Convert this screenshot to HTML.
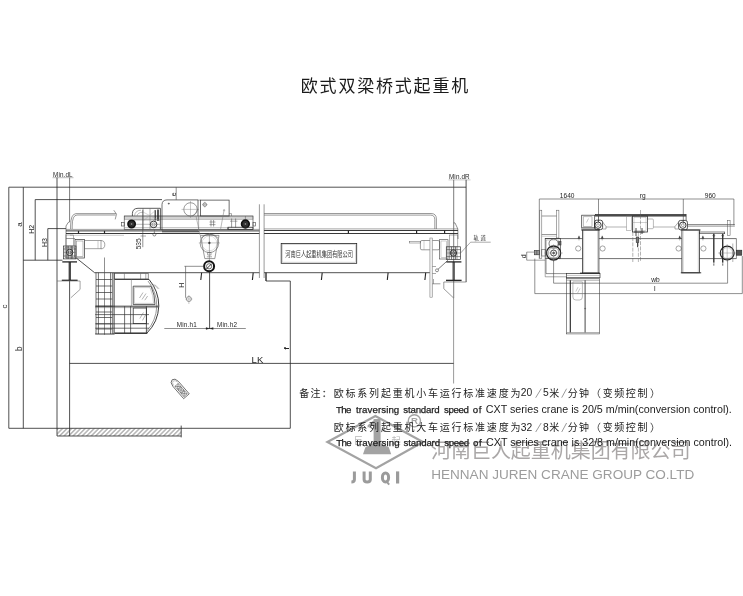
<!DOCTYPE html>
<html><head><meta charset="utf-8"><title>crane</title>
<style>
html,body{margin:0;padding:0;background:#fff;}
body{width:743px;height:596px;overflow:hidden;font-family:"Liberation Sans",sans-serif;}
svg{display:block;font-family:"Liberation Sans",sans-serif;will-change:transform;}
</style></head><body>
<svg width="743" height="596" viewBox="0 0 743 596" fill="none">
<defs>
<pattern id="hat" width="3.2" height="3.2" patternUnits="userSpaceOnUse" patternTransform="rotate(45)"><path d="M1.6 0V3.2" stroke="#444" stroke-width="0.6"/></pattern>
</defs>
<rect width="743" height="596" fill="#fff"/>
<path d="M8.8 187.2L8.8 428.3" stroke="#242424" stroke-width="0.8" />
<path d="M23.3 187.2L23.3 428.3" stroke="#242424" stroke-width="0.8" />
<path d="M8.8 187.2L466.1 187.2" stroke="#242424" stroke-width="0.8" />
<path d="M35.2 199.6L162 199.6" stroke="#242424" stroke-width="0.8" />
<path d="M35.2 199.6L35.2 260.2" stroke="#242424" stroke-width="0.8" />
<path d="M47.8 228.6L66 228.6" stroke="#242424" stroke-width="0.8" />
<path d="M47.8 228.6L47.8 260.2" stroke="#242424" stroke-width="0.8" />
<path d="M23.3 260.2L62.5 260.2" stroke="#242424" stroke-width="0.8" />
<path d="M8.8 428.3L290.3 428.3" stroke="#242424" stroke-width="0.8" />
<text x="7" y="306.5" font-size="8" fill="#242424" text-anchor="middle" font-weight="normal" transform="rotate(-90 7 306.5)" >c</text>
<text x="22" y="224.6" font-size="8" fill="#242424" text-anchor="middle" font-weight="normal" transform="rotate(-90 22 224.6)" >a</text>
<text x="22.2" y="348.8" font-size="8.2" fill="#242424" text-anchor="middle" font-weight="normal" transform="rotate(-90 22.2 348.8)" >b</text>
<text x="34.3" y="229.2" font-size="7" fill="#242424" text-anchor="middle" font-weight="normal" transform="rotate(-90 34.3 229.2)" >H2</text>
<text x="47" y="242.6" font-size="7" fill="#242424" text-anchor="middle" font-weight="normal" transform="rotate(-90 47 242.6)" >H3</text>
<text x="53.1" y="177.1" font-size="6.3" fill="#242424" text-anchor="start" font-weight="normal" letter-spacing="0.12" >Min.dL</text>
<path d="M52.5 177.7L73.5 177.7" stroke="#666" stroke-width="0.45" />
<path d="M57 177.6L57 436" stroke="#242424" stroke-width="0.8" />
<path d="M69.6 177.6L69.6 222" stroke="#242424" stroke-width="0.6" />
<path d="M69.6 262L69.6 436" stroke="#242424" stroke-width="0.8" />
<rect x="57" y="428.3" width="124.2" height="7.7" fill="url(#hat)"/>
<path d="M57 436L181.2 436" stroke="#242424" stroke-width="0.8" />
<path d="M181.2 425.6L181.2 437.4" stroke="#242424" stroke-width="0.8" />
<path d="M69.6 363.4L453.8 363.4" stroke="#242424" stroke-width="0.8" />
<text x="251.6" y="363.2" font-size="9.5" fill="#242424" text-anchor="start" font-weight="normal" >LK</text>
<path d="M266 272.7L266 281L290.3 281L290.3 428.3" stroke="#242424" stroke-width="0.8" fill="none" />
<text x="289.2" y="348.4" font-size="8" fill="#242424" text-anchor="middle" font-weight="bold" transform="rotate(-90 289.2 348.4)" >f</text>
<text x="449" y="179.3" font-size="6.3" fill="#242424" text-anchor="start" font-weight="normal" letter-spacing="0.12" >Min.dR</text>
<path d="M448.5 179.9L470.5 179.9" stroke="#777" stroke-width="0.4" />
<path d="M453.7 179.8L453.7 298" stroke="#444" stroke-width="0.7" />
<path d="M466.1 179.8L466.1 282" stroke="#242424" stroke-width="0.8" />
<path d="M453.6 298L453.6 383.5" stroke="#555" stroke-width="0.6" />
<path d="M70.6 229 V226 Q70.6 214 76 213.6 H116.2" stroke="#555" stroke-width="0.6" fill="none" />
<path d="M72.2 229 V226 Q72.2 215.2 77 215 H115.6" stroke="#555" stroke-width="0.6" fill="none" />
<path d="M113.8 210.2L116.5 214.2L115.2 219.4" stroke="#555" stroke-width="0.6" fill="none" />
<path d="M66 258L66 226L68.2 222.5L69.6 222" stroke="#444" stroke-width="0.6" fill="none" />
<path d="M66 229.4L259.4 229.4" stroke="#666" stroke-width="0.6" />
<path d="M66 230.9L259.4 230.9" stroke="#242424" stroke-width="0.9" />
<path d="M66 233.5L259.4 233.5" stroke="#242424" stroke-width="0.9" />
<path d="M70 235.3L124 235.3" stroke="#999" stroke-width="0.5" />
<path d="M78.5 230.9L78.5 233.5" stroke="#242424" stroke-width="1.2" />
<path d="M104.5 230.9L104.5 233.5" stroke="#242424" stroke-width="1.2" />
<path d="M76.8 258.4L94.6 272.7L259.4 272.7" stroke="#242424" stroke-width="0.8" fill="none" />
<path d="M66 258L76.8 258.4" stroke="#666" stroke-width="0.5" />
<path d="M201.6 272.7L200.8 280" stroke="#242424" stroke-width="1.1" />
<path d="M253.2 272.7L252.4 280" stroke="#242424" stroke-width="1.1" />
<path d="M259.4 204.3L259.4 278" stroke="#555" stroke-width="0.6" />
<path d="M264.1 204.3L264.1 278" stroke="#555" stroke-width="0.6" />
<path d="M264.1 213.5 H431 Q436.4 213.5 436.4 219 V229" stroke="#555" stroke-width="0.6" fill="none" />
<path d="M264.1 215.1 H430.4 Q434.8 215.1 434.8 219.6 V229" stroke="#555" stroke-width="0.6" fill="none" />
<path d="M264.1 228.9L458 228.9" stroke="#666" stroke-width="0.6" />
<path d="M264.1 230.5L458 230.5" stroke="#242424" stroke-width="0.9" />
<path d="M264.1 233.5L458 233.5" stroke="#242424" stroke-width="0.9" />
<path d="M348.4 230.5L348.4 233.5" stroke="#242424" stroke-width="1.2" />
<path d="M416.6 230.5L416.6 233.5" stroke="#242424" stroke-width="1.2" />
<path d="M444.6 230.5L444.6 233.5" stroke="#242424" stroke-width="1.2" />
<path d="M264.1 272.7L430.3 272.7" stroke="#242424" stroke-width="0.8" />
<path d="M322.2 272.7L321.4 280" stroke="#242424" stroke-width="1.1" />
<path d="M388.1 272.7L387.3 280" stroke="#242424" stroke-width="1.1" />
<path d="M425.7 272.7L424.9 280" stroke="#242424" stroke-width="1.1" />
<path d="M266 272.7L266 281" stroke="#242424" stroke-width="0.9" fill="none" />
<path d="M453.8 222.9L455 222.9L457.8 228.9L458 239" stroke="#444" stroke-width="0.6" fill="none" />
<rect x="281.2" y="243.4" width="75.5" height="19.9" rx="0" stroke="#242424" stroke-width="0.8" fill="none" />
<rect x="282.4" y="244.6" width="73.1" height="17.5" rx="0" stroke="#aaa" stroke-width="0.4" fill="none" />
<text x="285.3" y="256.9" font-size="7.6" fill="#333" text-anchor="start" font-weight="normal" font-family="&quot;Liberation Sans&quot;, &quot;Noto Sans CJK SC&quot;, sans-serif" textLength="67.7" lengthAdjust="spacingAndGlyphs">河南巨人起重机集团有限公司</text>
<rect x="75" y="239.6" width="9.4" height="18.4" rx="0" stroke="#333" stroke-width="0.7" fill="none" />
<rect x="76.5" y="241" width="6.5" height="15.5" rx="0" stroke="#777" stroke-width="0.5" fill="none" />
<rect x="84.4" y="240.6" width="16.6" height="8.2" rx="0" stroke="#666" stroke-width="0.6" fill="none" />
<path d="M101 240.6 Q104.8 240.6 104.8 244.7 Q104.8 248.8 101 248.8" stroke="#666" stroke-width="0.6" fill="none" />
<path d="M98 240.6L98 248.8" stroke="#999" stroke-width="0.5" />
<rect x="63.4" y="246" width="12.6" height="12.9" rx="0" stroke="#333" stroke-width="0.7" fill="none" />
<rect x="65" y="247.5" width="9.4" height="10" rx="0" stroke="#666" stroke-width="0.5" fill="none" />
<path d="M66.8 246L66.8 258.9" stroke="#555" stroke-width="0.6" />
<path d="M72.4 246L72.4 258.9" stroke="#555" stroke-width="0.6" />
<path d="M63.4 252.4L76 252.4" stroke="#666" stroke-width="0.5" />
<circle cx="69.7" cy="252.4" r="3.2" stroke="#222" stroke-width="0.9" fill="none"/>
<circle cx="69.7" cy="252.4" r="1.4" stroke="#333" stroke-width="0.6" fill="none"/>
<path d="M68.2 246L68.2 258.9" stroke="#333" stroke-width="0.7" />
<path d="M71.2 246L71.2 258.9" stroke="#333" stroke-width="0.7" />
<path d="M63.4 249L76 249" stroke="#444" stroke-width="0.6" />
<path d="M63.4 256L76 256" stroke="#444" stroke-width="0.6" />
<rect x="66" y="235" width="7.5" height="11" rx="0" stroke="#666" stroke-width="0.5" fill="none" />
<path d="M66 238.5L75 238.5" stroke="#555" stroke-width="0.6" />
<path d="M62.3 261.9L77 261.9" stroke="#242424" stroke-width="1.3" />
<path d="M69.1 262L69.1 280" stroke="#242424" stroke-width="0.8" />
<path d="M70.5 262L70.5 280" stroke="#242424" stroke-width="0.8" />
<path d="M61.8 280.3L77.6 280.3" stroke="#242424" stroke-width="1.3" />
<path d="M57 281L80.1 281L80.1 289.4L70.8 297.8" stroke="#666" stroke-width="0.6" fill="none" />
<path d="M96 272.7L96 334" stroke="#333" stroke-width="0.7" />
<path d="M98.4 272.7L98.4 334" stroke="#333" stroke-width="0.7" />
<path d="M110.6 272.7L110.6 334" stroke="#333" stroke-width="0.7" />
<path d="M104.5 257.5L104.5 334.7" stroke="#444" stroke-width="0.6" />
<rect x="112.2" y="273.5" width="2.4" height="60" rx="0" stroke="#555" stroke-width="0.5" fill="#aaa" />
<path d="M96 279.5L112.2 279.5" stroke="#333" stroke-width="0.7" />
<path d="M96 286L112.2 286" stroke="#333" stroke-width="0.7" />
<path d="M96 292.5L112.2 292.5" stroke="#333" stroke-width="0.7" />
<path d="M96 299L112.2 299" stroke="#333" stroke-width="0.7" />
<path d="M96 306.2L112.2 306.2" stroke="#333" stroke-width="0.7" />
<path d="M96 312L112.2 312" stroke="#333" stroke-width="0.7" />
<path d="M96 317.5L112.2 317.5" stroke="#333" stroke-width="0.7" />
<path d="M96 323.8L112.2 323.8" stroke="#333" stroke-width="0.7" />
<path d="M96 329L112.2 329" stroke="#333" stroke-width="0.7" />
<path d="M95.2 334L114.6 334" stroke="#242424" stroke-width="0.9" />
<rect x="114.6" y="273.5" width="33.6" height="5.5" rx="0" stroke="#444" stroke-width="0.6" fill="none" />
<path d="M124.4 273.5L124.4 279" stroke="#555" stroke-width="0.5" />
<path d="M140.6 273.5L140.6 279" stroke="#555" stroke-width="0.5" />
<path d="M145.8 273.5L145.8 279" stroke="#555" stroke-width="0.5" />
<path d="M114.6 279.4 H149 Q158.8 291 158.8 306 Q158.2 322 146.8 333.2 H114.6" stroke="#242424" stroke-width="0.9" fill="none" />
<path d="M148 281 Q156.8 292 156.8 306 Q156.2 321 146.4 331.5" stroke="#555" stroke-width="0.6" fill="none" />
<path d="M95.2 306.2L158.2 306.2" stroke="#242424" stroke-width="0.9" />
<path d="M95.2 307.6L158.2 307.6" stroke="#555" stroke-width="0.5" />
<path d="M95.2 314.6L149 314.6" stroke="#333" stroke-width="0.7" />
<path d="M95.2 323.8L149 323.8" stroke="#333" stroke-width="0.7" />
<path d="M95.2 328.2L149 328.2" stroke="#333" stroke-width="0.7" />
<path d="M114.6 333.2L147.4 333.2" stroke="#242424" stroke-width="1.0" />
<path d="M124.6 306.2L124.6 333.2" stroke="#333" stroke-width="0.7" />
<path d="M130.6 306.2L130.6 333.2" stroke="#333" stroke-width="0.7" />
<path d="M131.4 279.4L131.4 306.2" stroke="#666" stroke-width="0.5" />
<path d="M133.2 286.2 H151 Q155 295 155 304.6 H133.2 Z" stroke="#333" stroke-width="0.8" fill="none" />
<path d="M134.4 287.6 H150 Q153.6 296 153.6 303.4 H134.4 Z" stroke="#888" stroke-width="0.4" fill="none" />
<path d="M139.5 298L143 292.5" stroke="#666" stroke-width="0.5" />
<path d="M142 299.5L146 293.5" stroke="#666" stroke-width="0.5" />
<path d="M144.8 300.2L147.6 296" stroke="#666" stroke-width="0.5" />
<rect x="133.2" y="308" width="13.2" height="15.6" rx="0" stroke="#333" stroke-width="0.8" fill="none" />
<path d="M146.4 306.2L146.4 333.2" stroke="#333" stroke-width="0.8" />
<path d="M139.8 318.5L143.4 312.5" stroke="#666" stroke-width="0.5" />
<path d="M142.5 320.4L146 314.2" stroke="#666" stroke-width="0.5" />
<path d="M151.5 284.6 Q156 284 159 288.8" stroke="#666" stroke-width="0.5" fill="none" />
<path d="M152.5 286 Q156 285.5 158 289" stroke="#999" stroke-width="0.4" fill="none" />
<rect x="124.2" y="216" width="128.8" height="3.5" rx="0" stroke="#888" stroke-width="0.4" fill="#d2d2d2" />
<rect x="124.2" y="216" width="128.8" height="13.6" rx="0" stroke="#444" stroke-width="0.6" fill="none" />
<path d="M124.2 227.6L253 227.6" stroke="#888" stroke-width="0.5" />
<rect x="121.6" y="222.4" width="2.6" height="3.6" rx="0" stroke="#444" stroke-width="0.6" fill="none" />
<rect x="253" y="222.4" width="2.6" height="3.6" rx="0" stroke="#444" stroke-width="0.6" fill="none" />
<path d="M132.4 216 V213.5 Q132.6 208.3 138 208.3 H160.4 V229.6" stroke="#333" stroke-width="0.8" fill="none" />
<path d="M134.5 216 Q135 210.4 141 210.2" stroke="#777" stroke-width="0.5" fill="none" />
<path d="M137 216 Q137.6 212.4 143 212.2" stroke="#777" stroke-width="0.5" fill="none" />
<path d="M143 208.3L143 229.6" stroke="#555" stroke-width="0.6" />
<path d="M150 208.3L150 229.6" stroke="#666" stroke-width="0.5" />
<path d="M155.2 210L155.2 220.5" stroke="#222" stroke-width="1.1" />
<path d="M158 209.5L158 221" stroke="#222" stroke-width="1.5" />
<path d="M143 212L160 221" stroke="#999" stroke-width="0.4" />
<path d="M143 221L156 210" stroke="#999" stroke-width="0.4" />
<path d="M134 220L160 220" stroke="#777" stroke-width="0.5" />
<path d="M136 224.3L160 224.3" stroke="#777" stroke-width="0.5" />
<circle cx="131.6" cy="224" r="3.6" stroke="#111" stroke-width="1.7" fill="#333"/>
<circle cx="131.6" cy="224" r="1" stroke="#111" stroke-width="0.5" fill="#bbb"/>
<circle cx="153.6" cy="224.4" r="3.3" stroke="#222" stroke-width="0.9" fill="none"/>
<circle cx="153.6" cy="224.4" r="1.6" stroke="#555" stroke-width="0.5" fill="none"/>
<circle cx="154.4" cy="234.5" r="1.5" stroke="#444" stroke-width="0.6" fill="none"/>
<path d="M154.4 229.6L154.4 233" stroke="#555" stroke-width="0.5" />
<circle cx="245.4" cy="224" r="3.8" stroke="#111" stroke-width="1.7" fill="#333"/>
<circle cx="245.4" cy="224" r="1" stroke="#111" stroke-width="0.5" fill="#bbb"/>
<path d="M245.4 216L245.4 219" stroke="#555" stroke-width="0.5" />
<path d="M142.8 210L142.8 247.2" stroke="#444" stroke-width="0.6" />
<path d="M140.5 236L146 236" stroke="#555" stroke-width="0.5" />
<text x="141.4" y="243.8" font-size="6.6" fill="#242424" text-anchor="middle" font-weight="normal" transform="rotate(-90 141.4 243.8)" >535</text>
<path d="M162 230.3 V204.6 Q162.2 199.9 167 199.9 H198 V216" stroke="#333" stroke-width="0.7" fill="none" />
<path d="M162 230.3L198 230.3" stroke="#555" stroke-width="0.6" />
<circle cx="190.5" cy="209.4" r="6.7" stroke="#555" stroke-width="0.6" fill="none"/>
<path d="M181.5 209.4L199 209.4" stroke="#777" stroke-width="0.4" />
<path d="M190.5 201L190.5 218" stroke="#777" stroke-width="0.4" />
<circle cx="168.8" cy="203.6" r="0.6" stroke="#444" stroke-width="0.5" fill="#444"/>
<path d="M198 209 Q196 214 192.5 216" stroke="#666" stroke-width="0.5" fill="none" />
<path d="M176.2 187.2L176.2 199.9" stroke="#444" stroke-width="0.6" />
<text x="175.6" y="194.2" font-size="7" fill="#242424" text-anchor="middle" font-weight="normal" transform="rotate(-90 175.6 194.2)" >e</text>
<rect x="200.6" y="200.1" width="28.5" height="15.9" rx="0" stroke="#333" stroke-width="0.7" fill="none" />
<path d="M198 200.1L200.6 200.1" stroke="#555" stroke-width="0.5" />
<circle cx="204.8" cy="204.6" r="1.8" stroke="#444" stroke-width="0.6" fill="none"/>
<path d="M202 204.6L207.6 204.6" stroke="#777" stroke-width="0.4" />
<path d="M204.8 201.8L204.8 207.6" stroke="#777" stroke-width="0.4" />
<path d="M224 210.5L220.5 229.6" stroke="#777" stroke-width="0.5" />
<circle cx="224.1" cy="210.2" r="0.7" stroke="#555" stroke-width="0.4" fill="none"/>
<path d="M196 216L200 235" stroke="#777" stroke-width="0.5" />
<path d="M198.6 216L198.6 229.6" stroke="#666" stroke-width="0.5" />
<path d="M211 220L211 226.5" stroke="#555" stroke-width="0.6" />
<path d="M213.6 220L213.6 226.5" stroke="#555" stroke-width="0.6" />
<path d="M209.5 222L215.5 222" stroke="#555" stroke-width="0.5" />
<path d="M209.5 224.6L215.5 224.6" stroke="#555" stroke-width="0.5" />
<path d="M231.6 218.5L231.6 227.6" stroke="#555" stroke-width="0.6" />
<path d="M235.6 218.5L235.6 227.6" stroke="#555" stroke-width="0.6" />
<path d="M230 221.2L237.4 221.2" stroke="#555" stroke-width="0.5" />
<path d="M229.1 213.6L231.5 213.6" stroke="#555" stroke-width="0.5" />
<path d="M231.5 213.6L231.5 216" stroke="#555" stroke-width="0.5" />
<path d="M162 231.8L199 231.8" stroke="#333" stroke-width="0.9" />
<path d="M228 227.6L228 229.6" stroke="#333" stroke-width="0.8" />
<rect x="228" y="227.2" width="25" height="2.4" rx="0" stroke="#333" stroke-width="0.7" fill="none" />
<path d="M200.4 235.4 H219 L214.8 258.6 H204.8 Z" stroke="#555" stroke-width="0.6" fill="none" />
<path d="M201.5 238 Q203 234.6 209.6 234.4 Q216.4 234.6 218 238" stroke="#666" stroke-width="0.5" fill="none" />
<circle cx="209.4" cy="243.4" r="9.2" stroke="#555" stroke-width="0.6" fill="none"/>
<circle cx="209.4" cy="243.4" r="7.4" stroke="#aaa" stroke-width="0.4" fill="none"/>
<path d="M198.8 242.9L220 242.9" stroke="#777" stroke-width="0.4" />
<path d="M209.4 233L209.4 262" stroke="#666" stroke-width="0.5" />
<circle cx="209.4" cy="242.9" r="0.9" stroke="#333" stroke-width="0.5" fill="#333"/>
<rect x="207.8" y="252.6" width="3.2" height="2.4" rx="0" stroke="#555" stroke-width="0.5" fill="none" />
<path d="M206.8 256.8L212 256.8" stroke="#555" stroke-width="0.5" />
<circle cx="209.1" cy="266.3" r="5" stroke="#111" stroke-width="2.0" fill="none"/>
<circle cx="209.1" cy="266.3" r="2.6" stroke="#333" stroke-width="0.7" fill="none"/>
<path d="M206.4 269L211.8 263.6" stroke="#222" stroke-width="0.9" />
<path d="M209.6 271L209.6 329" stroke="#242424" stroke-width="0.8" />
<path d="M184.4 266.3L204.5 266.3" stroke="#444" stroke-width="0.6" />
<path d="M185.6 266.3L185.6 297.8" stroke="#444" stroke-width="0.6" />
<circle cx="188.9" cy="299" r="2.5" stroke="#555" stroke-width="0.6" fill="none"/>
<path d="M185.2 299L192.4 299" stroke="#777" stroke-width="0.4" />
<path d="M188.9 295L188.9 304" stroke="#777" stroke-width="0.4" />
<text x="183.6" y="285.2" font-size="7" fill="#242424" text-anchor="middle" font-weight="normal" transform="rotate(-90 183.6 285.2)" >H</text>
<path d="M164.3 328.5L245.8 328.5" stroke="#444" stroke-width="0.6" />
<text x="176.8" y="326.8" font-size="6.3" fill="#242424" text-anchor="start" font-weight="normal" letter-spacing="0.2" >Min.h1</text>
<text x="217" y="326.8" font-size="6.3" fill="#242424" text-anchor="start" font-weight="normal" letter-spacing="0.2" >Min.h2</text>
<path d="M209.6 328.5 L206 327.6 V329.4 Z" stroke="#242424" stroke-width="0.3" fill="#242424" />
<path d="M209.6 328.5 L213.2 327.6 V329.4 Z" stroke="#242424" stroke-width="0.3" fill="#242424" />
<rect x="409.4" y="241.4" width="11" height="1.6" rx="0" stroke="#666" stroke-width="0.5" fill="none" />
<rect x="420.4" y="240.5" width="19.2" height="9.3" rx="1.5" stroke="#555" stroke-width="0.6" fill="none" />
<path d="M424 240.5L424 249.8" stroke="#888" stroke-width="0.4" />
<rect x="439.6" y="239.7" width="8.4" height="19.3" rx="0" stroke="#444" stroke-width="0.6" fill="none" />
<rect x="441" y="241" width="5.6" height="16.6" rx="0" stroke="#888" stroke-width="0.4" fill="none" />
<rect x="429.9" y="238" width="2.5" height="59.2" rx="0" stroke="#777" stroke-width="0.5" fill="#eee" />
<rect x="446.3" y="246.8" width="14.2" height="12.6" rx="0" stroke="#333" stroke-width="0.7" fill="none" />
<path d="M449.6 246.8L449.6 259.4" stroke="#555" stroke-width="0.6" />
<path d="M457 246.8L457 259.4" stroke="#555" stroke-width="0.6" />
<path d="M446.3 253L460.5 253" stroke="#666" stroke-width="0.5" />
<circle cx="453.4" cy="253" r="3.2" stroke="#222" stroke-width="0.9" fill="none"/>
<circle cx="453.4" cy="253" r="1.4" stroke="#333" stroke-width="0.6" fill="none"/>
<path d="M451.6 246.8L451.6 259.4" stroke="#333" stroke-width="0.7" />
<path d="M455.4 246.8L455.4 259.4" stroke="#333" stroke-width="0.7" />
<path d="M446.3 249.6L460.5 249.6" stroke="#444" stroke-width="0.6" />
<path d="M446.3 256.6L460.5 256.6" stroke="#444" stroke-width="0.6" />
<rect x="449.6" y="235" width="8.2" height="11.8" rx="0" stroke="#666" stroke-width="0.5" fill="none" />
<path d="M446.3 261.9L461.4 261.9" stroke="#242424" stroke-width="1.3" />
<path d="M453 262L453 280.3" stroke="#242424" stroke-width="0.8" />
<path d="M454.3 262L454.3 280.3" stroke="#242424" stroke-width="0.8" />
<path d="M446 280.4L461.6 280.4" stroke="#242424" stroke-width="1.4" />
<path d="M466.4 282L443.8 282L443.8 288.7L453.6 298" stroke="#555" stroke-width="0.6" fill="none" />
<path d="M437.9 269.4L448 260.2" stroke="#444" stroke-width="0.7" />
<circle cx="437" cy="270.3" r="1.5" stroke="#444" stroke-width="0.6" fill="none"/>
<path d="M432.4 266.5L436 266.5" stroke="#555" stroke-width="0.5" />
<path d="M432.4 273.5L436 273.5" stroke="#555" stroke-width="0.5" />
<path d="M432.4 283.8L440.4 283.8" stroke="#555" stroke-width="0.6" />
<path d="M433.5 279L433.5 283.8" stroke="#555" stroke-width="0.5" />
<text x="473.4" y="240.4" font-size="5.4" fill="#333" text-anchor="start" font-weight="normal" font-family="&quot;Liberation Sans&quot;, &quot;Noto Sans CJK SC&quot;, sans-serif" textLength="12.4" lengthAdjust="spacing">轨道</text>
<path d="M470.6 242.2L490.7 242.2" stroke="#555" stroke-width="0.5" />
<path d="M470.6 242.2L460.5 253.1" stroke="#555" stroke-width="0.5" />
<g transform="translate(179.6 388.4) rotate(49)">
<path d="M10.4 -3.7 H-6 Q-11.2 -3.4 -11.4 0 Q-11.2 3.4 -6 3.7 H10.4 Z" stroke="#444" stroke-width="0.7" fill="none" />
<path d="M-6 -2.6 Q-9.6 -2.2 -9.8 0 Q-9.6 2.2 -6 2.6" stroke="#777" stroke-width="0.4" fill="none" />
<rect x="-4.6" y="-2.2" width="4" height="4.4" rx="0" stroke="#444" stroke-width="0.5" fill="none" />
<path d="M-4.6 -2.2L-0.6 2.2" stroke="#444" stroke-width="0.5" />
<path d="M-4.6 2.2L-0.6 -2.2" stroke="#444" stroke-width="0.5" />
<rect x="0.2" y="-2.2" width="4" height="4.4" rx="0" stroke="#444" stroke-width="0.5" fill="none" />
<path d="M0.2 -2.2L4.2 2.2" stroke="#444" stroke-width="0.5" />
<path d="M0.2 2.2L4.2 -2.2" stroke="#444" stroke-width="0.5" />
<rect x="5" y="-2.2" width="4" height="4.4" rx="0" stroke="#444" stroke-width="0.5" fill="none" />
<path d="M5 -2.2L9 2.2" stroke="#444" stroke-width="0.5" />
<path d="M5 2.2L9 -2.2" stroke="#444" stroke-width="0.5" />
</g>
<path d="M539.3 199L733.9 199" stroke="#444" stroke-width="0.6" />
<path d="M539.3 199L539.3 258.9" stroke="#444" stroke-width="0.6" />
<path d="M598.5 199L598.5 222" stroke="#444" stroke-width="0.6" />
<path d="M683.3 199L683.3 223.6" stroke="#444" stroke-width="0.6" />
<path d="M733.9 199L733.9 225.3" stroke="#444" stroke-width="0.6" />
<text x="567.2" y="198.3" font-size="6.6" fill="#242424" text-anchor="middle" font-weight="normal" >1640</text>
<text x="642.8" y="198" font-size="6.6" fill="#242424" text-anchor="middle" font-weight="normal" >rg</text>
<text x="710.3" y="198.3" font-size="6.6" fill="#242424" text-anchor="middle" font-weight="normal" >960</text>
<rect x="539.8" y="210.2" width="2" height="48.2" rx="0" stroke="#555" stroke-width="0.5" fill="none" />
<rect x="556.6" y="210.2" width="2.3" height="27.8" rx="0" stroke="#555" stroke-width="0.5" fill="none" />
<path d="M541.8 216L556.6 216" stroke="#555" stroke-width="0.6" />
<path d="M541.8 234.5L556.6 234.5" stroke="#555" stroke-width="0.6" />
<path d="M541.8 236.2L556.6 236.2" stroke="#888" stroke-width="0.4" />
<path d="M545.2 238.6L736.4 238.6" stroke="#333" stroke-width="0.7" />
<path d="M559 258.6L736.4 258.6" stroke="#333" stroke-width="0.7" />
<path d="M736.4 238.6L736.4 258.6" stroke="#444" stroke-width="0.6" />
<rect x="545.2" y="238.6" width="15.1" height="20" rx="0" stroke="#333" stroke-width="0.7" fill="none" />
<rect x="546.8" y="240" width="12" height="17.2" rx="0" stroke="#888" stroke-width="0.4" fill="none" />
<circle cx="553.6" cy="253" r="7" stroke="#222" stroke-width="1.3" fill="none"/>
<circle cx="553.6" cy="253" r="5.4" stroke="#777" stroke-width="0.5" fill="none"/>
<circle cx="553.6" cy="253" r="3" stroke="#333" stroke-width="0.9" fill="none"/>
<circle cx="553.6" cy="253" r="1" stroke="#333" stroke-width="0.5" fill="#333"/>
<circle cx="553.6" cy="243.6" r="4.6" stroke="#444" stroke-width="0.7" fill="none"/>
<rect x="558.8" y="241.6" width="2.2" height="3.4" rx="0" stroke="#333" stroke-width="0.6" fill="#666" />
<path d="M544 253L563 253" stroke="#888" stroke-width="0.4" />
<path d="M553.6 244L553.6 262" stroke="#888" stroke-width="0.4" />
<rect x="534.3" y="250.4" width="5.3" height="4.4" rx="0" stroke="#333" stroke-width="0.6" fill="#999" />
<path d="M536.8 250.4L536.8 254.8" stroke="#333" stroke-width="0.5" />
<rect x="541.8" y="249.5" width="3.4" height="6.5" rx="0" stroke="#444" stroke-width="0.5" fill="none" />
<path d="M526.7 252.1L526.7 260.2" stroke="#444" stroke-width="0.6" />
<path d="M526.7 252.1L534.3 252.1" stroke="#444" stroke-width="0.5" />
<path d="M526.7 260.2L545.2 260.2" stroke="#444" stroke-width="0.5" />
<text x="525.6" y="256.4" font-size="7" fill="#242424" text-anchor="middle" font-weight="normal" transform="rotate(-90 525.6 256.4)" >d</text>
<path d="M534.8 258.6L534.8 293.6" stroke="#444" stroke-width="0.6" />
<path d="M553.6 260L553.6 283.2" stroke="#444" stroke-width="0.6" />
<path d="M553.6 283.2L727.6 283.2" stroke="#444" stroke-width="0.6" />
<path d="M534.8 293.6L742.3 293.6" stroke="#444" stroke-width="0.6" />
<path d="M727.6 258.6L727.6 283.2" stroke="#444" stroke-width="0.6" />
<path d="M742.3 256L742.3 293.6" stroke="#444" stroke-width="0.6" />
<text x="655.5" y="281.8" font-size="6.6" fill="#242424" text-anchor="middle" font-weight="normal" >wb</text>
<text x="654.8" y="290.6" font-size="7" fill="#242424" text-anchor="middle" font-weight="normal" >l</text>
<path d="M546 258.6L546 273.6L566.6 273.6" stroke="#444" stroke-width="0.6" fill="none" />
<path d="M545.2 258.6L545.2 276.8L566.6 276.8" stroke="#555" stroke-width="0.5" fill="none" />
<rect x="582.4" y="230" width="16.5" height="43" rx="0" stroke="#333" stroke-width="0.8" fill="#fff" />
<path d="M583.6 230L583.6 273" stroke="#999" stroke-width="0.5" />
<path d="M597.7 230L597.7 273" stroke="#999" stroke-width="0.5" />
<path d="M581.2 230L600 230" stroke="#333" stroke-width="0.9" />
<rect x="581.7" y="215.2" width="13" height="12.6" rx="0" stroke="#333" stroke-width="0.7" fill="none" />
<rect x="583.2" y="216.8" width="8.8" height="9.6" rx="0" stroke="#777" stroke-width="0.5" fill="none" />
<path d="M586.5 222.5L588.5 218.5" stroke="#777" stroke-width="0.4" />
<path d="M581 228.9L596 228.9" stroke="#555" stroke-width="0.6" />
<rect x="595.5" y="214.4" width="90.6" height="1.7" rx="0" stroke="#222" stroke-width="0.6" fill="#555" />
<path d="M598.5 216.1L598.5 222" stroke="#444" stroke-width="0.5" />
<rect x="594.6" y="220.2" width="8" height="9.4" rx="2" stroke="#222" stroke-width="0.8" fill="none" />
<circle cx="598" cy="225.2" r="3.2" stroke="#222" stroke-width="0.9" fill="none"/>
<circle cx="598" cy="225.2" r="1.4" stroke="#555" stroke-width="0.5" fill="none"/>
<path d="M602.6 222 L606 226.5 V229 H602.6" stroke="#555" stroke-width="0.5" fill="none" />
<path d="M606 227L626.6 227" stroke="#666" stroke-width="0.5" />
<circle cx="578.2" cy="248.5" r="2.6" stroke="#666" stroke-width="0.6" fill="none"/>
<circle cx="602.6" cy="248.5" r="2.6" stroke="#666" stroke-width="0.6" fill="none"/>
<circle cx="678.6" cy="248.5" r="2.6" stroke="#666" stroke-width="0.6" fill="none"/>
<circle cx="703.4" cy="248.5" r="2.6" stroke="#666" stroke-width="0.6" fill="none"/>
<path d="M579 235.8 L577.9 238.6 H580.1 Z" stroke="#333" stroke-width="0.3" fill="#333" />
<path d="M579 238.6L579 240.5" stroke="#555" stroke-width="0.4" />
<path d="M602.2 235.8 L601.1 238.6 H603.3000000000001 Z" stroke="#333" stroke-width="0.3" fill="#333" />
<path d="M602.2 238.6L602.2 240.5" stroke="#555" stroke-width="0.4" />
<path d="M679.7 235.8 L678.6 238.6 H680.8000000000001 Z" stroke="#333" stroke-width="0.3" fill="#333" />
<path d="M679.7 238.6L679.7 240.5" stroke="#555" stroke-width="0.4" />
<path d="M702.9 235.8 L701.8 238.6 H704.0 Z" stroke="#333" stroke-width="0.3" fill="#333" />
<path d="M702.9 238.6L702.9 240.5" stroke="#555" stroke-width="0.4" />
<rect x="626.6" y="216.1" width="5" height="14.2" rx="0" stroke="#888" stroke-width="0.5" fill="none" />
<rect x="632.4" y="216.1" width="15.1" height="15.9" rx="0" stroke="#333" stroke-width="0.8" fill="none" />
<rect x="634" y="217.6" width="12" height="12.8" rx="0" stroke="#999" stroke-width="0.4" fill="none" />
<rect x="647.5" y="219" width="5.9" height="9.7" rx="1" stroke="#777" stroke-width="0.5" fill="none" />
<path d="M632.4 222.5L647.5 222.5" stroke="#888" stroke-width="0.4" />
<path d="M640.5 210L640.5 262" stroke="#666" stroke-width="0.5" stroke-dasharray="4 1.2"/>
<path d="M632.8 232L632.8 262" stroke="#666" stroke-width="0.5" stroke-dasharray="4 1.2"/>
<path d="M638.4 232L638.4 262" stroke="#777" stroke-width="0.5" stroke-dasharray="4 1.2"/>
<rect x="636.2" y="237" width="2.6" height="5.6" rx="0" stroke="#333" stroke-width="0.6" fill="#777" />
<path d="M637.5 242.6L637.5 247.2" stroke="#333" stroke-width="0.9" />
<path d="M636 228L636 236" stroke="#333" stroke-width="0.9" />
<path d="M642 228L642 234" stroke="#333" stroke-width="0.9" />
<path d="M634 232L644.5 232" stroke="#333" stroke-width="0.8" />
<rect x="678.6" y="220.4" width="8.8" height="9.4" rx="2" stroke="#222" stroke-width="0.8" fill="none" />
<circle cx="682.8" cy="225.2" r="3.2" stroke="#222" stroke-width="0.9" fill="none"/>
<circle cx="682.8" cy="225.2" r="1.4" stroke="#555" stroke-width="0.5" fill="none"/>
<path d="M678.6 222 L675 226.5 V229 H678.6" stroke="#555" stroke-width="0.5" fill="none" />
<path d="M653.4 227L675 227" stroke="#666" stroke-width="0.5" />
<path d="M686.1 216.1L686.1 220.4" stroke="#333" stroke-width="0.7" />
<path d="M687.4 224.5L734.8 224.5" stroke="#444" stroke-width="0.6" />
<path d="M687.4 226.1L734.8 226.1" stroke="#444" stroke-width="0.6" />
<rect x="681.9" y="230" width="17.6" height="42.8" rx="0" stroke="#333" stroke-width="0.8" fill="#fff" />
<path d="M683.1 230L683.1 272.8" stroke="#999" stroke-width="0.5" />
<path d="M698.3 230L698.3 272.8" stroke="#999" stroke-width="0.5" />
<path d="M680.8 230L700.6 230" stroke="#333" stroke-width="0.9" />
<path d="M680.8 272.8L701.2 272.8" stroke="#333" stroke-width="1.0" />
<rect x="699.5" y="232" width="25.2" height="1.7" rx="0" stroke="#333" stroke-width="0.6" fill="none" />
<path d="M713.8 233.7L713.8 262.2" stroke="#333" stroke-width="1.4" />
<path d="M713.8 262.2L713.8 266" stroke="#555" stroke-width="1.2" stroke-dasharray="1.2 0.8"/>
<circle cx="713.8" cy="235.6" r="0.9" stroke="#333" stroke-width="0.5" fill="none"/>
<path d="M722.7 233.7L722.7 262.2" stroke="#333" stroke-width="1.4" />
<path d="M722.7 262.2L722.7 266" stroke="#555" stroke-width="1.2" stroke-dasharray="1.2 0.8"/>
<circle cx="722.7" cy="235.6" r="0.9" stroke="#333" stroke-width="0.5" fill="none"/>
<rect x="727.7" y="220.3" width="2.4" height="15.1" rx="0" stroke="#555" stroke-width="0.5" fill="none" />
<circle cx="727.2" cy="253" r="6.9" stroke="#222" stroke-width="1.2" fill="none"/>
<circle cx="727.2" cy="253" r="5.4" stroke="#888" stroke-width="0.4" fill="none"/>
<path d="M718 253L737 253" stroke="#777" stroke-width="0.4" />
<path d="M727.2 244L727.2 262" stroke="#777" stroke-width="0.4" />
<rect x="736.4" y="250.2" width="5.4" height="5" rx="0" stroke="#222" stroke-width="0.6" fill="#555" />
<path d="M732.8 243.5L732.8 262" stroke="#666" stroke-width="0.5" />
<rect x="566.6" y="273.4" width="33.4" height="4.3" rx="0" stroke="#333" stroke-width="0.7" fill="#fff" />
<path d="M566.6 275.4L600 275.4" stroke="#888" stroke-width="0.5" />
<path d="M580 273.2L600 273.2" stroke="#222" stroke-width="1.1" />
<rect x="566.6" y="278.5" width="33.1" height="55.4" rx="0" stroke="#444" stroke-width="0.6" fill="none" />
<path d="M566.6 280.2L599.7 280.2" stroke="#555" stroke-width="0.5" />
<path d="M570.3 280.2L570.3 332.5" stroke="#222" stroke-width="1.1" />
<path d="M585.1 280.2L585.1 332.5" stroke="#333" stroke-width="0.9" />
<path d="M566.6 332.5L599.7 332.5" stroke="#666" stroke-width="0.5" />
<path d="M572.9 281.9 H582.4 V297 Q582.4 300 579.4 300 H575.9 Q572.9 300 572.9 297 Z" stroke="#777" stroke-width="0.5" fill="none" />
<path d="M575.8 291.5L578 287.2" stroke="#777" stroke-width="0.4" />
<path d="M577.6 293L580 288.4" stroke="#777" stroke-width="0.4" />
<circle cx="585.1" cy="308.6" r="0.5" stroke="#333" stroke-width="0.4" fill="none"/>
<path d="M327.4 442L375.4 416L423 442L376 468.2Z" stroke="#a3a3a3" stroke-width="2.2" fill="none" stroke-linejoin="miter"/>
<path d="M363 454.2 L365.4 447.2 Q370.5 446 373.6 442.5 V425.4 L367.6 427.6 V425.2 L373.6 420.4 V419 H380.6 V442.5 Q383.8 446 388.8 447.2 L391.2 454.2 Z" stroke="none" stroke-width="0" fill="#a3a3a3" />
<text x="353.4" y="443.8" font-size="9.3" fill="#b9b9b9" text-anchor="start" font-weight="normal" font-family="&quot;Liberation Sans&quot;, &quot;Noto Sans CJK SC&quot;, sans-serif">巨</text>
<text x="391.6" y="443.8" font-size="9.3" fill="#b9b9b9" text-anchor="start" font-weight="normal" font-family="&quot;Liberation Sans&quot;, &quot;Noto Sans CJK SC&quot;, sans-serif">起</text>
<circle cx="414.4" cy="420.8" r="6.1" stroke="#a3a3a3" stroke-width="1.4" fill="none"/>
<text x="414.5" y="424.4" font-size="9.6" fill="#a3a3a3" text-anchor="middle" font-weight="bold" >R</text>
<path d="M354.4 471.4 V479.6 Q354.4 482 351.4 482" stroke="#9b9b9b" stroke-width="3" fill="none" />
<path d="M364.1 471.4 V479.6 Q364.1 482 367.2 482 Q370.3 482 370.3 479.6 V471.4" stroke="#9b9b9b" stroke-width="3" fill="none" />
<ellipse cx="385.5" cy="477.4" rx="3.1" ry="4.5" stroke="#9b9b9b" stroke-width="3" fill="none"/>
<path d="M386.2 481.2 L389.2 484.6" stroke="#9b9b9b" stroke-width="2" fill="none" />
<path d="M397.6 471.4 V483.5" stroke="#9b9b9b" stroke-width="3.2" fill="none" />
<text x="431" y="457.5" font-size="20" fill="#aaa7a7" text-anchor="start" font-weight="normal" font-family="&quot;Liberation Sans&quot;, &quot;Noto Sans CJK SC&quot;, sans-serif" textLength="259.5" lengthAdjust="spacing">河南巨人起重机集团有限公司</text>
<text x="431.2" y="478.9" font-size="13.55" fill="#9c9c9c" text-anchor="start" font-weight="normal" textLength="263" lengthAdjust="spacing">HENNAN JUREN CRANE GROUP CO.LTD</text>
<text x="300.8" y="92.2" font-size="17" fill="#1a1a1a" text-anchor="start" font-weight="normal" font-family="&quot;Liberation Sans&quot;, &quot;Noto Sans CJK SC&quot;, sans-serif" textLength="167.4" lengthAdjust="spacing">欧式双梁桥式起重机</text>
<text x="299.2" y="397" font-size="10" fill="#1c1c1c" text-anchor="start" font-weight="normal" font-family="&quot;Liberation Sans&quot;, &quot;Noto Sans CJK SC&quot;, sans-serif" textLength="21.2" lengthAdjust="spacing">备注</text>
<circle cx="324.2" cy="391.6" r="0.6" stroke="#1c1c1c" stroke-width="0.3" fill="#1c1c1c"/>
<circle cx="324.2" cy="396.2" r="0.6" stroke="#1c1c1c" stroke-width="0.3" fill="#1c1c1c"/>
<text x="333.8" y="397" font-size="10" fill="#1c1c1c" text-anchor="start" font-weight="normal" font-family="&quot;Liberation Sans&quot;, &quot;Noto Sans CJK SC&quot;, sans-serif" textLength="186.6" lengthAdjust="spacing">欧标系列起重机小车运行标准速度为</text>
<text x="520.7" y="396.2" font-size="10.3" fill="#1c1c1c" text-anchor="start" font-weight="normal" >20</text>
<path d="M535.7 397.7L541.2 388.7" stroke="#555" stroke-width="0.6" />
<text x="543" y="396.2" font-size="10.3" fill="#1c1c1c" text-anchor="start" font-weight="normal" >5</text>
<text x="549.2" y="397" font-size="10" fill="#1c1c1c" text-anchor="start" font-weight="normal" font-family="&quot;Liberation Sans&quot;, &quot;Noto Sans CJK SC&quot;, sans-serif">米</text>
<path d="M561.7 397.7L566.6 388.7" stroke="#555" stroke-width="0.6" />
<text x="567.7" y="397" font-size="10" fill="#1c1c1c" text-anchor="start" font-weight="normal" font-family="&quot;Liberation Sans&quot;, &quot;Noto Sans CJK SC&quot;, sans-serif" textLength="21.4" lengthAdjust="spacing">分钟</text>
<path d="M600.1 388.5 Q596 393.3 600.1 398.1" stroke="#333" stroke-width="0.8" fill="none" />
<text x="602.8" y="397" font-size="10" fill="#1c1c1c" text-anchor="start" font-weight="normal" font-family="&quot;Liberation Sans&quot;, &quot;Noto Sans CJK SC&quot;, sans-serif" textLength="44.6" lengthAdjust="spacing">变频控制</text>
<path d="M650.8 388.5 Q654.9 393.3 650.8 398.1" stroke="#333" stroke-width="0.8" fill="none" />
<text x="333.8" y="431.3" font-size="10" fill="#1c1c1c" text-anchor="start" font-weight="normal" font-family="&quot;Liberation Sans&quot;, &quot;Noto Sans CJK SC&quot;, sans-serif" textLength="186.6" lengthAdjust="spacing">欧标系列起重机大车运行标准速度为</text>
<text x="520.7" y="430.5" font-size="10.3" fill="#1c1c1c" text-anchor="start" font-weight="normal" >32</text>
<path d="M535.7 432L541.2 423" stroke="#555" stroke-width="0.6" />
<text x="543" y="430.5" font-size="10.3" fill="#1c1c1c" text-anchor="start" font-weight="normal" >8</text>
<text x="549.2" y="431.3" font-size="10" fill="#1c1c1c" text-anchor="start" font-weight="normal" font-family="&quot;Liberation Sans&quot;, &quot;Noto Sans CJK SC&quot;, sans-serif">米</text>
<path d="M561.7 432L566.6 423" stroke="#555" stroke-width="0.6" />
<text x="567.7" y="431.3" font-size="10" fill="#1c1c1c" text-anchor="start" font-weight="normal" font-family="&quot;Liberation Sans&quot;, &quot;Noto Sans CJK SC&quot;, sans-serif" textLength="21.4" lengthAdjust="spacing">分钟</text>
<path d="M600.1 422.79999999999995 Q596 427.59999999999997 600.1 432.4" stroke="#333" stroke-width="0.8" fill="none" />
<text x="602.8" y="431.3" font-size="10" fill="#1c1c1c" text-anchor="start" font-weight="normal" font-family="&quot;Liberation Sans&quot;, &quot;Noto Sans CJK SC&quot;, sans-serif" textLength="44.6" lengthAdjust="spacing">变频控制</text>
<path d="M650.8 422.79999999999995 Q654.9 427.59999999999997 650.8 432.4" stroke="#333" stroke-width="0.8" fill="none" />
<text x="336.05" y="412.7" font-size="9.7" fill="#1c1c1c" text-anchor="start" font-weight="normal" textLength="15.3" lengthAdjust="spacing" stroke="#1c1c1c" stroke-width="0.25">The</text>
<text x="355.95" y="412.7" font-size="9.7" fill="#1c1c1c" text-anchor="start" font-weight="normal" textLength="43.3" lengthAdjust="spacing" stroke="#1c1c1c" stroke-width="0.25">traversing</text>
<text x="403.25" y="412.7" font-size="9.7" fill="#1c1c1c" text-anchor="start" font-weight="normal" textLength="36.5" lengthAdjust="spacing" stroke="#1c1c1c" stroke-width="0.25">standard</text>
<text x="443.95" y="412.7" font-size="9.7" fill="#1c1c1c" text-anchor="start" font-weight="normal" textLength="24.9" lengthAdjust="spacing" stroke="#1c1c1c" stroke-width="0.25">speed</text>
<text x="472.75" y="412.7" font-size="9.7" fill="#1c1c1c" text-anchor="start" font-weight="normal" textLength="8.6" lengthAdjust="spacing" stroke="#1c1c1c" stroke-width="0.25">of</text>
<text x="485.8" y="412.7" font-size="10.7" fill="#1c1c1c" text-anchor="start" font-weight="normal" textLength="246" lengthAdjust="spacing">CXT series crane is 20/5 m/min(conversion control).</text>
<text x="336.35" y="446.3" font-size="9.7" fill="#1c1c1c" text-anchor="start" font-weight="normal" textLength="15.3" lengthAdjust="spacing" stroke="#1c1c1c" stroke-width="0.25">The</text>
<text x="356.25" y="446.3" font-size="9.7" fill="#1c1c1c" text-anchor="start" font-weight="normal" textLength="43.3" lengthAdjust="spacing" stroke="#1c1c1c" stroke-width="0.25">traversing</text>
<text x="403.55" y="446.3" font-size="9.7" fill="#1c1c1c" text-anchor="start" font-weight="normal" textLength="36.5" lengthAdjust="spacing" stroke="#1c1c1c" stroke-width="0.25">standard</text>
<text x="444.25" y="446.3" font-size="9.7" fill="#1c1c1c" text-anchor="start" font-weight="normal" textLength="24.9" lengthAdjust="spacing" stroke="#1c1c1c" stroke-width="0.25">speed</text>
<text x="473.05" y="446.3" font-size="9.7" fill="#1c1c1c" text-anchor="start" font-weight="normal" textLength="8.6" lengthAdjust="spacing" stroke="#1c1c1c" stroke-width="0.25">of</text>
<text x="486.1" y="446.3" font-size="10.7" fill="#1c1c1c" text-anchor="start" font-weight="normal" textLength="246" lengthAdjust="spacing">CXT series crane is 32/8 m/min(conversion control).</text>
</svg>
</body></html>
